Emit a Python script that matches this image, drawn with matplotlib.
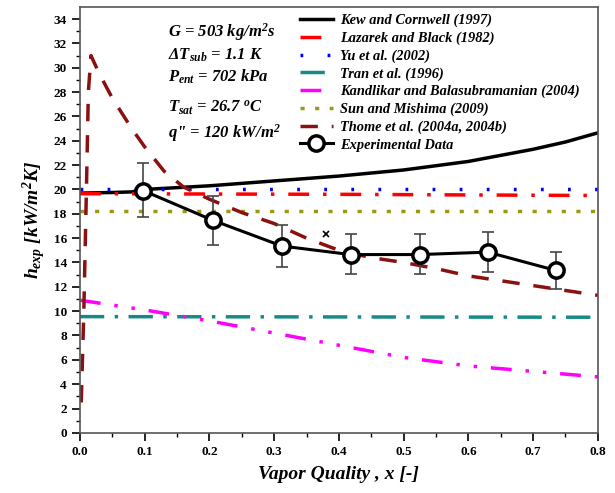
import numpy as np
import matplotlib
matplotlib.use("Agg")
import matplotlib.pyplot as plt

plt.rcParams['font.family'] = ['Liberation Serif', 'DejaVu Serif']
plt.rcParams['mathtext.fontset'] = 'custom'
plt.rcParams['mathtext.rm'] = 'Liberation Serif:bold:italic'
plt.rcParams['mathtext.it'] = 'Liberation Serif:bold:italic'
plt.rcParams['mathtext.bf'] = 'Liberation Serif:bold:italic'

# correlations
x_kew = [0.0, 0.05, 0.08, 0.1, 0.2, 0.3, 0.4, 0.5, 0.6, 0.7, 0.75, 0.8]
h_kew = [19.7, 19.75, 19.8, 20.0, 20.3, 20.7, 21.1, 21.6, 22.3, 23.3, 23.9, 24.65]

x_laz = [0.0, 0.4, 0.8]
h_laz = [19.65, 19.6, 19.5]

x_yu = [0.0, 0.8]
h_yu = [20.0, 20.0]

x_tran = [0.0, 0.8]
h_tran = [9.55, 9.5]

x_kan = [0.0, 0.1, 0.2, 0.3, 0.4, 0.5, 0.6, 0.7, 0.8]
h_kan = [10.9, 10.1, 9.2, 8.2, 7.2, 6.2, 5.5, 5.05, 4.6]

x_sun = [0.0, 0.8]
h_sun = [18.2, 18.2]

x_thome = [0.002, 0.006, 0.01, 0.013, 0.017, 0.03, 0.05, 0.08, 0.1, 0.13, 0.16, 0.2,
           0.25, 0.3, 0.35, 0.4, 0.45, 0.5, 0.55, 0.6, 0.65, 0.7, 0.75, 0.8]
h_thome = [2.5, 10.0, 20.0, 28.0, 31.0, 29.5, 27.5, 25.0, 23.5, 21.5, 20.2, 19.2,
           18.1, 17.2, 16.0, 15.0, 14.4, 14.0, 13.5, 12.9, 12.5, 12.1, 11.7, 11.3]

# experiment
x_exp = [0.098, 0.206, 0.312, 0.418, 0.525, 0.63, 0.735]
h_exp = [19.9, 17.45, 15.35, 14.65, 14.65, 14.85, 13.35]
h_lo = [17.7, 15.45, 13.6, 13.05, 13.05, 13.2, 11.85]
h_hi = [22.2, 19.45, 17.1, 16.35, 16.35, 16.5, 14.9]

x_stray = [0.3795]
h_stray = [16.3]

fig = plt.figure(figsize=(6.15, 4.93), dpi=100)
ax = fig.add_axes([0.130, 0.122, 0.842, 0.864])

ax.plot(x_kew, h_kew, color='black', lw=2.5, label='Kew and Cornwell (1997)')
ax.plot(x_laz, h_laz, color='red', lw=2.5, ls=(0, (6, 4, 1, 4)), label='Lazarek and Black (1982)')
ax.plot(x_yu, h_yu, color='blue', lw=2.5, ls=(0, (0.8, 7)), label='Yu et al. (2002)')
ax.plot(x_tran, h_tran, color='#168a87', lw=2.5, ls=(0, (7, 3, 1, 3)), label='Tran et al. (1996)')
ax.plot(x_kan, h_kan, color='magenta', lw=2.5, ls=(0, (6, 4, 1, 4, 1, 4)),
        label='Kandlikar and Balasubramanian (2004)')
ax.plot(x_sun, h_sun, color='#9a9a12', lw=2.5, ls=(0, (1.2, 3)), label='Sun and Mishima (2009)')
ax.plot(x_thome, h_thome, color='#8b1010', lw=2.5, ls=(0, (5, 4)), label='Thome et al. (2004a, 2004b)')

yerr = [np.array(h_exp) - np.array(h_lo), np.array(h_hi) - np.array(h_exp)]
ax.errorbar(x_exp, h_exp, yerr=yerr, fmt='none', ecolor='#444444', elinewidth=1.2, capsize=4, capthick=1.2)
ax.plot(x_exp, h_exp, color='black', lw=2.2, marker='o', ms=11, mfc='white', mec='black', mew=2.5,
        label='Experimental Data')
ax.plot(x_stray, h_stray, 'x', color='black', ms=4, mew=1.2)

ax.set_xlim(0, 0.8)
ax.set_ylim(0, 35)
ax.set_xticks(np.arange(0, 0.81, 0.1))
ax.set_xticks(np.arange(0, 0.81, 0.05), minor=True)
ax.set_yticks(np.arange(0, 35, 2))
ax.set_yticks(np.arange(0, 35, 1), minor=True)
ax.set_xticklabels(['%.1f' % v for v in np.arange(0, 0.81, 0.1)])
ax.tick_params(axis='both', which='major', direction='out', length=6, width=1.2,
               labelsize=9.5, top=False, right=False)
ax.tick_params(axis='both', which='minor', direction='out', length=3, width=1.0, top=False, right=False)
for lab in ax.get_xticklabels() + ax.get_yticklabels():
    lab.set_fontweight('bold')
for s in ax.spines.values():
    s.set_color('#555555')
    s.set_linewidth(1.2)

ax.set_xlabel('Vapor Quality , x [-]', fontsize=14, fontweight='bold', style='italic', labelpad=6)
ax.set_ylabel(r'$h_{exp}$ [kW/m$^2$K]', fontsize=14, fontweight='bold', style='italic', labelpad=4)

txt = dict(fontsize=12, fontweight='bold', style='italic', transform=ax.transAxes, va='baseline')
ax.text(0.171, 0.931, r'G = 503 kg/m$^2$s', **txt)
ax.text(0.171, 0.876, r'$\Delta$T$_{sub}$ = 1.1 K', **txt)
ax.text(0.171, 0.825, r'P$_{ent}$ = 702 kPa', **txt)
ax.text(0.171, 0.752, r'T$_{sat}$ = 26.7 $^o$C', **txt)
ax.text(0.171, 0.692, r'q" = 120 kW/m$^2$', **txt)

leg = ax.legend(loc='upper left', bbox_to_anchor=(0.4247, 0.984), frameon=False, handlelength=2.3,
                labelspacing=0.3, handletextpad=0.5, borderaxespad=0, borderpad=0,
                prop={'family': 'Liberation Serif', 'weight': 'bold', 'style': 'italic', 'size': 10.4})

fig.savefig('out.png', dpi=100)
